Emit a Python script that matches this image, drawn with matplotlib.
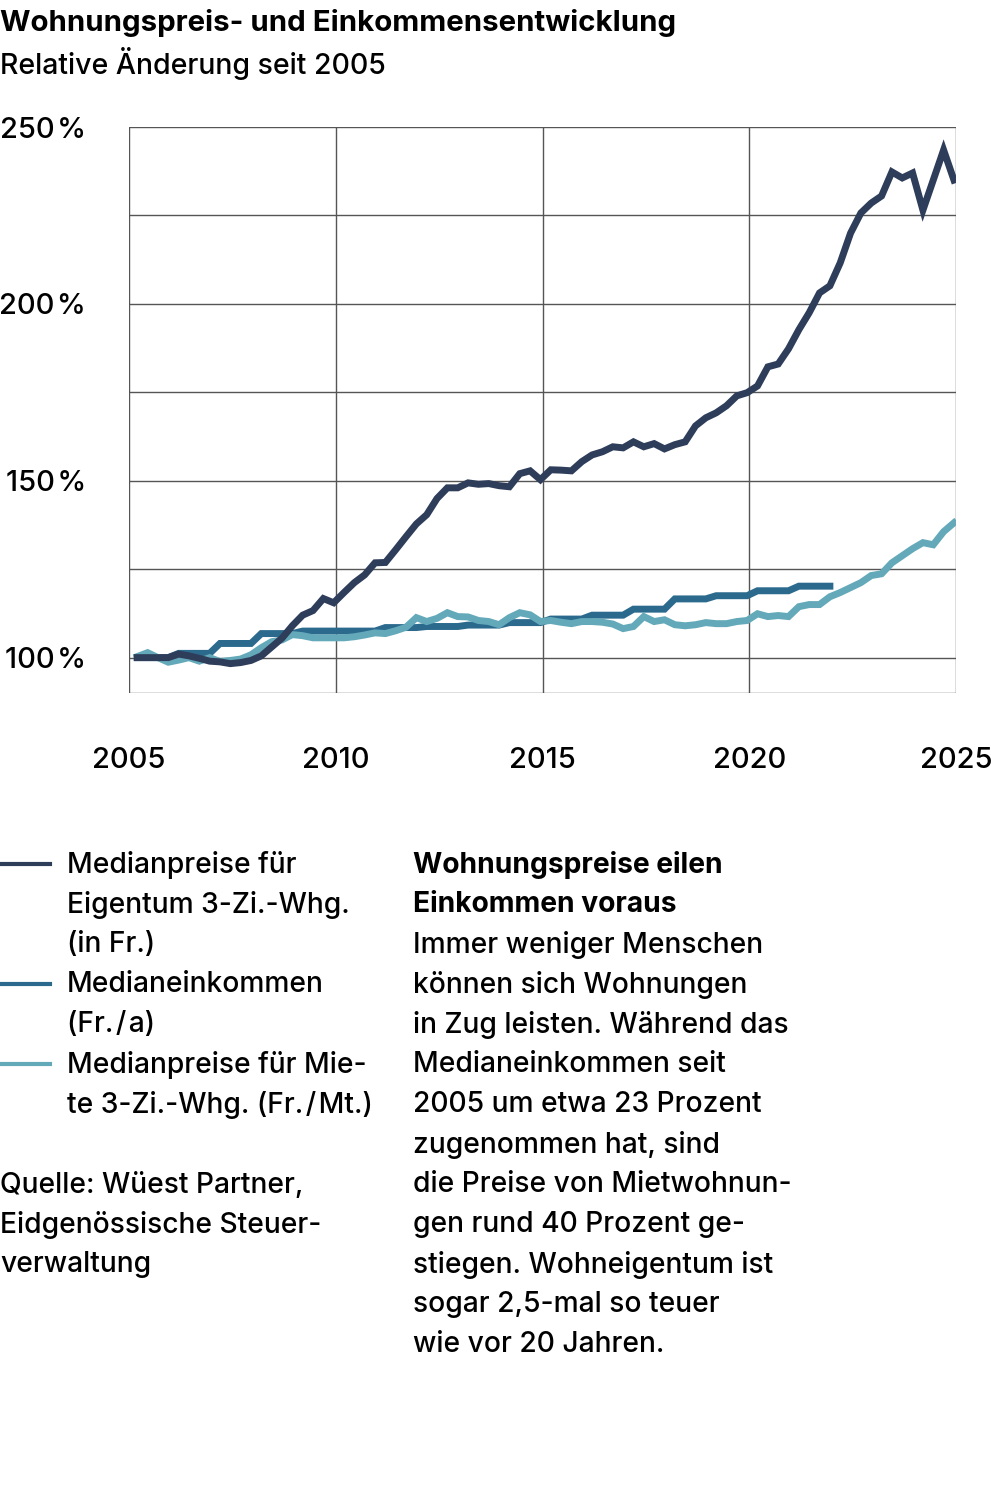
import numpy as np
import matplotlib
matplotlib.use('Agg')
import matplotlib.pyplot as plt

plt.rcParams['font.family'] = ['Inter', 'DejaVu Sans']

# Quarterly time axis 2005Q1 .. 2024Q4
quarters = 2005.2 + 0.25 * np.arange(80)

# Medianpreise Eigentum 3-Zi.-Whg. (index, 2005 = 100 %)
eigentum = [100.0, 100.0, 100.0, 100.0, 101.0, 100.5, 99.8, 99.0,
            98.8, 98.3, 98.6, 99.2, 100.5, 103.0, 105.5, 109.0,
            112.0, 113.3, 116.7, 115.5, 118.4, 121.2, 123.4, 126.8,
            126.9, 130.5, 134.2, 137.8, 140.4, 145.0, 148.0, 148.0,
            149.4, 149.0, 149.2, 148.6, 148.3, 152.0, 152.8, 150.3,
            153.1, 153.0, 152.8, 155.4, 157.3, 158.2, 159.6, 159.3,
            161.0, 159.6, 160.5, 159.0, 160.2, 161.0, 165.5, 167.8,
            169.2, 171.2, 174.0, 174.9, 176.8, 182.2, 183.0, 187.3,
            192.7, 197.5, 203.1, 205.1, 211.6, 220.0, 225.7, 228.5,
            230.5, 237.3, 235.6, 237.0, 226.5, 235.0, 243.5, 235.0]

# Medianeinkommen, annual values 2005..2021 (shown per quarter)
einkommen_jahr = [100.0, 101.2, 104.0, 106.8, 107.5, 107.5, 108.5, 108.8,
                  109.2, 109.9, 110.9, 112.0, 113.7, 116.6, 117.5, 118.9, 120.2]
einkommen = np.repeat(einkommen_jahr, 4)

# Medianpreise Miete 3-Zi.-Whg.
miete = [100.3, 101.4, 100.0, 98.7, 99.3, 100.0, 99.0, 100.0,
         98.9, 99.2, 99.6, 100.8, 102.8, 104.5, 105.0, 106.5,
         106.2, 105.6, 105.6, 105.6, 105.6, 105.9, 106.4, 107.0,
         106.8, 107.6, 108.6, 111.3, 110.2, 111.1, 112.7, 111.6,
         111.5, 110.5, 110.2, 109.3, 111.3, 112.7, 112.1, 110.2,
         110.5, 110.0, 109.6, 110.2, 110.2, 110.0, 109.5, 108.2,
         108.8, 111.6, 110.2, 110.7, 109.3, 109.0, 109.3, 109.9,
         109.6, 109.6, 110.2, 110.5, 112.4, 111.6, 111.9, 111.6,
         114.4, 115.0, 115.0, 117.2, 118.4, 119.8, 121.2, 123.2,
         123.7, 126.8, 128.8, 130.8, 132.5, 131.9, 135.6, 138.1]

year_ticks = [2005, 2010, 2015, 2020, 2025]
pct_ticks = [100, 150, 200, 250]
minor_ticks = [90, 125, 175, 225]

c_eig = '#2e3d5a'
c_ein = '#2b6a8d'
c_mie = '#63a9b9'

W, H = 991, 1492
fig = plt.figure(figsize=(W / 100, H / 100), dpi=100)
ax = fig.add_axes([129 / W, 1 - 693 / H, 827 / W, 566 / H])

for v in pct_ticks + minor_ticks:
    ax.axhline(v, color='#555555', lw=1.0, zorder=1)
for y in year_ticks:
    ax.axvline(y, color='#555555', lw=1.0, zorder=1)

ax.plot(quarters, miete, color=c_mie, lw=5, zorder=3, solid_joinstyle='miter')
ax.plot(quarters[:len(einkommen)], einkommen, color=c_ein, lw=5, zorder=2,
        solid_joinstyle='miter')
ax.plot(quarters, eigentum, color=c_eig, lw=5, zorder=4, solid_joinstyle='miter')

ax.set_xlim(2005, 2025)
ax.set_ylim(90, 250)
for s in ax.spines.values():
    s.set_visible(False)
ax.set_xticks(year_ticks)
ax.set_xticklabels([str(y) for y in year_ticks], fontsize=21, fontweight='medium')
ax.set_yticks(pct_ticks)
ax.set_yticklabels([f'{v}\u200a%' for v in pct_ticks], fontsize=21, fontweight='medium')
ax.tick_params(length=0)
ax.tick_params(axis='x', pad=39)
ax.tick_params(axis='y', pad=31)

def px(x, y):
    return x / W, 1 - y / H

fig.text(*px(0, 23), 'Wohnungspreis- und Einkommensentwicklung', fontsize=21.2,
         fontweight='bold', va='center', ha='left')
fig.text(*px(0, 63), 'Relative Änderung seit 2005', fontsize=20.5,
         fontweight='medium', va='center', ha='left')

# legend
legend_items = [
    (c_eig, 865, ['Medianpreise für', 'Eigentum 3-Zi.-Whg.', '(in Fr.)']),
    (c_ein, 985, ['Medianeinkommen', '(Fr.\u200a/\u200aa)']),
    (c_mie, 1065, ['Medianpreise für Mie-', 'te 3-Zi.-Whg. (Fr.\u200a/\u200aMt.)']),
]
for col, y0, lines in legend_items:
    fig.add_artist(plt.Line2D([0, 50 / W], [1 - (y0 - 1) / H] * 2, color=col, lw=3))
    for k, t in enumerate(lines):
        fig.text(*px(67, y0 + 40 * k), t, fontsize=20.3, fontweight='medium',
                 va='center', ha='left')

for k, t in enumerate(['Quelle: Wüest Partner,', 'Eidgenössische Steuer-', 'verwaltung']):
    fig.text(*px(0, 1185 + 40 * k), t, fontsize=20.3, fontweight='medium',
             va='center', ha='left')

bold_lines = ['Wohnungspreise eilen', 'Einkommen voraus']
body_lines = ['Immer weniger Menschen', 'können sich Wohnungen',
              'in Zug leisten. Während das', 'Medianeinkommen seit',
              '2005 um etwa 23 Prozent', 'zugenommen hat, sind',
              'die Preise von Mietwohnun-', 'gen rund 40 Prozent ge-',
              'stiegen. Wohneigentum ist', 'sogar 2,5-mal so teuer',
              'wie vor 20 Jahren.']
for k, t in enumerate(bold_lines + body_lines):
    fig.text(*px(413, 865 + 40 * k), t, fontsize=20.3, va='center', ha='left',
             fontweight='bold' if k < 2 else 'medium')

fig.savefig('out.png', dpi=100)
